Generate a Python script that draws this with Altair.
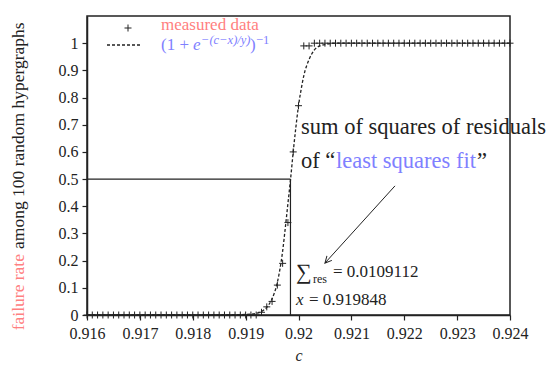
import altair as alt
import pandas as pd

SERIF = "Liberation Serif"
RED = "#ff8080"
BLUE = "#8080ff"
INK = "#222222"

# ---------------- data ----------------
c_ticks = [0.916, 0.917, 0.918, 0.919, 0.920, 0.921, 0.922, 0.923, 0.924]
rate_ticks = [0, 0.1, 0.2, 0.3, 0.4, 0.5, 0.6, 0.7, 0.8, 0.9, 1.0]

measured_c = [
    0.9160, 0.9161, 0.9162, 0.9163, 0.9164, 0.9165, 0.9166, 0.9167, 0.9168, 0.9169,
    0.9170, 0.9171, 0.9172, 0.9173, 0.9174, 0.9175, 0.9176, 0.9177, 0.9178, 0.9179,
    0.9180, 0.9181, 0.9182, 0.9183, 0.9184, 0.9185, 0.9186, 0.9187, 0.9188, 0.9189,
    0.9190, 0.9191, 0.9192, 0.9193, 0.9194, 0.9195, 0.9196, 0.9197, 0.9198, 0.9199,
    0.9200, 0.9201, 0.9202, 0.9203, 0.9204, 0.9205, 0.9206, 0.9207, 0.9208, 0.9209,
    0.9210, 0.9211, 0.9212, 0.9213, 0.9214, 0.9215, 0.9216, 0.9217, 0.9218, 0.9219,
    0.9220, 0.9221, 0.9222, 0.9223, 0.9224, 0.9225, 0.9226, 0.9227, 0.9228, 0.9229,
    0.9230, 0.9231, 0.9232, 0.9233, 0.9234, 0.9235, 0.9236, 0.9237, 0.9238, 0.9239,
    0.9240,
]
measured_rate = (
    [0.0] * 33
    + [0.01, 0.03, 0.05, 0.11, 0.19, 0.34, 0.60, 0.77, 0.99, 0.99]
    + [1.0] * 38
)

fit_c = [0.9160, 0.9185, 0.9190, 0.9192, 0.9193, 0.9194, 0.9195, 0.9196, 0.9197,
         0.91975, 0.9198, 0.91985, 0.9199, 0.91995, 0.9200, 0.92005, 0.9201,
         0.9202, 0.9203, 0.9204, 0.9205, 0.9207, 0.9240]
fit_rate = [0.0, 0.0, 0.002, 0.006, 0.013, 0.028, 0.06, 0.12, 0.235,
            0.32, 0.41, 0.50, 0.60, 0.69, 0.77, 0.83, 0.88,
            0.94, 0.975, 0.99, 0.995, 1.0, 1.0]

fit_x = 0.919848
sum_res = "0.0109112"

# arrow (data coords): from label towards the fit
arrow_from = (0.921825, 0.475)
arrow_to = (0.92050, 0.191)

PLUS = "M-1,0L1,0M0,-1L0,1"
CHEVRON = "M-0.5,1L0,0L0.5,1"

measured_df = pd.DataFrame({"c": measured_c, "rate": measured_rate})
fit_df = pd.DataFrame({"c": fit_c, "rate": fit_rate})
guide_df = pd.DataFrame({
    "c": [0.916, fit_x], "rate": [0.5, 0.0],
    "c2": [fit_x, fit_x], "rate2": [0.5, 0.5],
})
arrow_df = pd.DataFrame({
    "c": [arrow_from[0]], "rate": [arrow_from[1]],
    "c2": [arrow_to[0]], "rate2": [arrow_to[1]],
})
head_df = pd.DataFrame({"c": [arrow_to[0]], "rate": [arrow_to[1]]})

xscale = alt.Scale(domain=[0.916, 0.924], nice=False, zero=False)
yscale = alt.Scale(domain=[0, 1.1], nice=False, zero=False)

x_axis = alt.Axis(
    values=c_ticks, format="~g", title="c", titleFontStyle="italic",
    titleFont=SERIF, titleFontSize=16, titleFontWeight="normal",
    titleColor=INK, titlePadding=6,
    labelFont=SERIF, labelFontSize=16, labelColor=INK,
    labelOverlap=False, labelFlush=False,
    tickSize=5, labelPadding=5, grid=False)
y_axis = alt.Axis(
    values=rate_ticks, format="~g", title="",
    labelFont=SERIF, labelFontSize=16, labelColor=INK,
    labelOverlap=False, labelFlush=False,
    tickSize=5, labelPadding=4, grid=False)

points = alt.Chart(measured_df).mark_point(
    shape=PLUS, filled=False, size=49, strokeWidth=1, color=INK, opacity=1
).encode(
    x=alt.X("c:Q", scale=xscale, axis=x_axis),
    y=alt.Y("rate:Q", scale=yscale, axis=y_axis),
)

fit_line = alt.Chart(fit_df).mark_line(
    color=INK, strokeWidth=1.3, strokeDash=[3, 2], interpolate="monotone"
).encode(x=alt.X("c:Q", axis=x_axis), y=alt.Y("rate:Q", axis=y_axis))

guides = alt.Chart(guide_df).mark_rule(color=INK, strokeWidth=1.2).encode(
    x=alt.X("c:Q", axis=x_axis), y=alt.Y("rate:Q", axis=y_axis),
    x2="c2:Q", y2="rate2:Q")

arrow = alt.Chart(arrow_df).mark_rule(color=INK, strokeWidth=1).encode(
    x=alt.X("c:Q", axis=x_axis), y=alt.Y("rate:Q", axis=y_axis),
    x2="c2:Q", y2="rate2:Q")
arrow_head = alt.Chart(head_df).mark_point(
    shape=CHEVRON, filled=False, size=180, strokeWidth=1, color=INK,
    angle=222, opacity=1
).encode(x=alt.X("c:Q", axis=x_axis), y=alt.Y("rate:Q", axis=y_axis))

# plot origin on the page is (87, 16)
OX, OY = 87, 16


def txt(s, px, py, size, color=INK, style="normal", align="left",
        angle=0, baseline="alphabetic"):
    props = dict(font=SERIF, fontSize=size, color=color, fontStyle=style,
                 align=align, baseline=baseline)
    if angle:
        props["angle"] = angle
    return alt.Chart(pd.DataFrame({"t": [s]})).mark_text(**props).encode(
        x=alt.value(px - OX), y=alt.value(py - OY), text="t:N")


texts = [
    # legend
    txt("measured data", 161, 30, 17, RED),
    txt("(1 + ", 161, 50, 17, BLUE),
    txt("e", 193, 50, 17, BLUE, "italic"),
    txt("−(c−x)/y)", 201, 44, 12.5, BLUE, "italic"),
    txt(")", 250, 50, 17, BLUE),
    txt("−1", 256, 44, 12.5, BLUE),
    # big annotation
    txt("sum of squares of residuals", 301, 134, 22.5),
    txt("of “", 301, 168, 22.5),
    txt("least squares fit", 336, 168, 22.5, BLUE),
    txt("”", 477, 168, 22.5),
    # values
    txt("∑", 296, 279, 22),
    txt("res", 313, 283, 12),
    txt("= " + sum_res, 333, 277, 17),
    txt("x", 296, 305, 17, INK, "italic"),
    txt("= " + str(fit_x), 309, 305, 17),
    # y title (two colours)
    txt("failure rate", 24, 254, 17.5, RED, align="right", angle=270),
    txt("among 100 random hypergraphs", 24, 249, 17.5, INK, align="left", angle=270),
]

legend_plus = alt.Chart(pd.DataFrame({"k": ["m"]})).mark_point(
    shape=PLUS, filled=False, size=49, strokeWidth=1, color=INK, opacity=1
).encode(x=alt.value(128 - OX), y=alt.value(28 - OY))
legend_dash = alt.Chart(pd.DataFrame({"k": ["f"]})).mark_rule(
    color=INK, strokeWidth=1.3, strokeDash=[3, 2]
).encode(x=alt.value(107 - OX), x2=alt.value(142 - OX), y=alt.value(45 - OY))

chart = alt.layer(
    points, guides, fit_line, arrow, arrow_head, legend_plus, legend_dash, *texts
).properties(
    width=423, height=299,
    autosize=alt.AutoSizeParams(type="none"),
    padding={"left": 79, "top": 8, "right": 41, "bottom": 48},
    background="white",
).configure_view(
    stroke=INK, strokeWidth=1.5
).configure_axis(
    domainColor=INK, domainWidth=1.5, tickColor=INK, tickWidth=1.2
)

chart.save("out.html", embed_options={"renderer": "svg", "actions": False})
